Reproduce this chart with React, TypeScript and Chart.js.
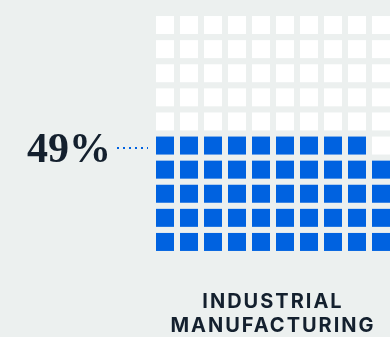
import React, { useEffect, useRef } from "react";
import { Chart, registerables } from "chart.js";

Chart.register(...registerables);

// ---- data ----
const shareValue = 49; // percent of cells filled
const shareLabel = "49%";
const categoryLines = ["INDUSTRIAL", "MANUFACTURING"];
const gridColumns = [0, 1, 2, 3, 4, 5, 6, 7, 8, 9];
const gridRows = [0, 1, 2, 3, 4, 5, 6, 7, 8, 9]; // 0 = bottom row

const BG = "#ecf0ef";
const BLUE = "#0062e0";
const TEXT = "#14202e";

export default function App() {
  const canvasRef = useRef<HTMLCanvasElement | null>(null);

  useEffect(() => {
    document.body.style.margin = "0";
    document.body.style.background = BG;
    const canvas = canvasRef.current;
    if (!canvas) return;

    const filled: { x: number; y: number }[] = [];
    const empty: { x: number; y: number }[] = [];
    gridRows.forEach((r) => {
      gridColumns.forEach((c) => {
        const idx = r * gridColumns.length + c;
        (idx < shareValue ? filled : empty).push({ x: c, y: r });
      });
    });

    const side = 18;
    const radius = side / Math.SQRT2;

    const chart = new Chart(canvas, {
      type: "scatter",
      data: {
        datasets: [
          {
            label: "filled",
            data: filled,
            pointStyle: "rect",
            pointRadius: radius,
            pointHoverRadius: radius,
            backgroundColor: BLUE,
            borderWidth: 0,
            clip: false as any,
          },
          {
            label: "empty",
            data: empty,
            pointStyle: "rect",
            pointRadius: radius,
            pointHoverRadius: radius,
            backgroundColor: "#ffffff",
            borderWidth: 0,
            clip: false as any,
          },
        ],
      },
      options: {
        responsive: false,
        animation: false,
        events: [],
        layout: { autoPadding: false, padding: { left: 153, right: 0, top: 13, bottom: 83 } },
        plugins: { legend: { display: false }, tooltip: { enabled: false } },
        scales: {
          x: { type: "linear", display: false, min: -0.5, max: 9.375 },
          y: { type: "linear", display: false, min: -0.5, max: 9.5 },
        },
      },
    });
    return () => chart.destroy();
  }, []);

  return (
    <div style={{ position: "fixed", left: 0, top: 0, width: 390, height: 337, background: BG, overflow: "hidden" }}>
      <canvas ref={canvasRef} width={390} height={337} style={{ position: "absolute", left: 0, top: 0 }} />
      <div
        style={{
          position: "absolute",
          left: 0,
          width: 111,
          top: 124,
          textAlign: "right",
          fontFamily: "'Liberation Serif', serif",
          fontWeight: 700,
          fontSize: 42,
          lineHeight: "48px",
          color: TEXT,
        }}
      >
        {shareLabel}
      </div>
      <div
        style={{
          position: "absolute",
          left: 117,
          top: 147,
          width: 31,
          height: 2,
          background: `repeating-linear-gradient(to right, ${BLUE} 0 2px, transparent 2px 6px)`,
        }}
      />
      <div
        style={{
          position: "absolute",
          left: 152,
          width: 242,
          top: 288.5,
          textAlign: "center",
          fontFamily: "Inter, sans-serif",
          fontWeight: 700,
          fontSize: 20,
          lineHeight: "24.4px",
          letterSpacing: "2px",
          color: TEXT,
        }}
      >
        {categoryLines.map((l) => (
          <div key={l}>{l}</div>
        ))}
      </div>
    </div>
  );
}
